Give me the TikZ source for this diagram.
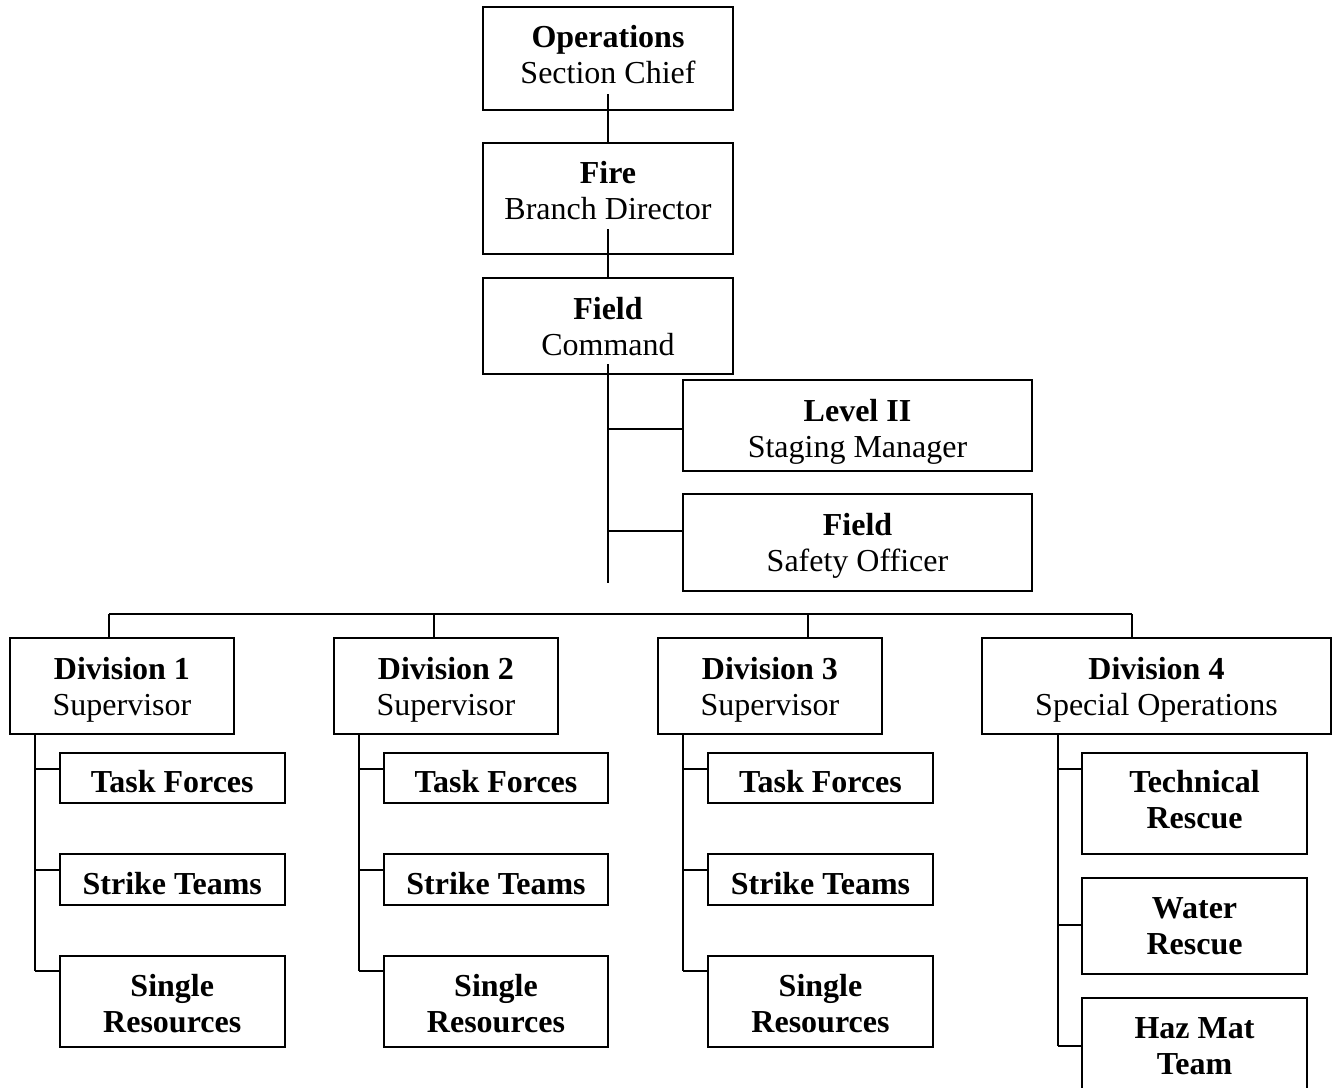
\documentclass[tikz,border=0pt]{standalone}
\usepackage{fontspec}
\setmainfont{Liberation Serif}
\usetikzlibrary{calc}
\begin{document}
\begin{tikzpicture}[x=1pt,y=-1pt,
  txt/.style={inner sep=0pt, align=center, font=\fontsize{32}{36}\selectfont, text depth=0pt},
  box/.style={txt, draw, line width=2pt, rectangle},
  topbox/.style={box, minimum width=250pt},
  sidebox/.style={box, minimum width=349pt},
  divbox/.style={box, minimum width=224pt, minimum height=96pt, text height=58pt},
  onebox/.style={box, minimum width=224.5pt},
  subbox/.style={box, minimum width=224.5pt},
  conn/.style={line width=2pt}
]
\clip (0,0) rectangle (1335,1087);

% top chain
\node[topbox, minimum height=103pt, text height=49.6pt] (ops) at (608,58.5) {\textbf{Operations}\\Section Chief};
\node[topbox, minimum height=111pt, text height=41.6pt] (fire) at (608,198.5) {\textbf{Fire}\\Branch Director};
\node[topbox, minimum height=96pt, text height=58pt] (field) at (608,326) {\textbf{Field}\\Command};

% side boxes
\node[sidebox, minimum height=90.7pt] (lvl) at (857.5,425.35) {};
\begin{scope}
  \clip (lvl.north west) rectangle ($(lvl.south east)+(0,14)$);
  \node[txt, text height=64.7pt] (lvltext) at (lvl.center) {\textbf{Level II}\\Staging Manager};
\end{scope}
\node[sidebox, minimum height=97pt, text height=57pt] (safe) at (857.5,542.5) {\textbf{Field}\\Safety Officer};

% divisions
\node[divbox] (div1) at (122,686) {\textbf{Division 1}\\Supervisor};
\node[divbox] (div2) at (446,686) {\textbf{Division 2}\\Supervisor};
\node[divbox] (div3) at (770,686) {\textbf{Division 3}\\Supervisor};
\node[divbox, minimum width=349pt] (div4) at (1156.5,686) {\textbf{Division 4}\\Special Operations};

% division children 1-3
\node[onebox, minimum height=50pt, text height=29.2pt] (tf1) at (172.25,778) {\textbf{Task Forces}};
\node[onebox, minimum height=51pt, text height=29pt] (st1) at (172.25,879.5) {\textbf{Strike Teams}};
\node[subbox, minimum height=91pt, text height=61pt] (sr1) at (172.25,1001.5) {\textbf{Single}\\\textbf{Resources}};

\node[onebox, minimum height=50pt, text height=29.2pt] (tf2) at (496,778) {\textbf{Task Forces}};
\node[onebox, minimum height=51pt, text height=29pt] (st2) at (496,879.5) {\textbf{Strike Teams}};
\node[subbox, minimum height=91pt, text height=61pt] (sr2) at (496,1001.5) {\textbf{Single}\\\textbf{Resources}};

\node[onebox, minimum height=50pt, text height=29.2pt] (tf3) at (820.5,778) {\textbf{Task Forces}};
\node[onebox, minimum height=51pt, text height=29pt] (st3) at (820.5,879.5) {\textbf{Strike Teams}};
\node[subbox, minimum height=91pt, text height=61pt] (sr3) at (820.5,1001.5) {\textbf{Single}\\\textbf{Resources}};

% division 4 children
\node[subbox, minimum height=101pt, text height=50.4pt] (tech) at (1194.5,803.5) {\textbf{Technical}\\\textbf{Rescue}};
\node[subbox, minimum height=96pt, text height=56.6pt] (water) at (1194.5,926) {\textbf{Water}\\\textbf{Rescue}};
\node[subbox, minimum height=96pt, text height=56pt] (haz) at (1194.5,1046) {\textbf{Haz Mat}\\\textbf{Team}};

% top connectors
\draw[conn] ($(ops.south)+(0,-17)$) -- (fire.north);
\draw[conn] ($(fire.south)+(0,-26)$) -- (field.north);
\coordinate (fcend) at (608,583);
\draw[conn] ($(field.south)+(0,-11)$) -- (fcend);
\coordinate (lvlb) at ($(lvl.north west)+(0,50)$);
\coordinate (safeb) at ($(safe.north west)+(0,38)$);
\draw[conn] (fcend |- lvlb) -- (lvlb);
\draw[conn] (fcend |- safeb) -- (safeb);

% bus
\coordinate (b1) at (109,614);
\coordinate (b2) at (434,614);
\coordinate (b3) at (808,614);
\coordinate (b4) at (1132,614);
\draw[conn] (b1) -- (b4);
\draw[conn] (b1) -- (b1 |- div1.north);
\draw[conn] (b2) -- (b2 |- div2.north);
\draw[conn] (b3) -- (b3 |- div3.north);
\draw[conn] (b4) -- (b4 |- div4.north);

% branch points
\coordinate (s1) at (35,0);
\coordinate (s2) at (359,0);
\coordinate (s3) at (683,0);
\coordinate (s4) at (1057.5,0);
\foreach \i in {1,2,3}{
  \coordinate (tf\i b) at ($(tf\i.north west)+(0,17)$);
  \coordinate (st\i b) at ($(st\i.north west)+(0,17)$);
  \coordinate (sr\i b) at ($(sr\i.north west)+(0,16)$);
  \draw[conn] (s\i |- div\i.south) -- (s\i |- sr\i b);
  \draw[conn] (s\i |- tf\i b) -- (tf\i b);
  \draw[conn] (s\i |- st\i b) -- (st\i b);
  \draw[conn] (s\i |- sr\i b) -- (sr\i b);
}
\coordinate (techb) at ($(tech.north west)+(0,17)$);
\coordinate (waterb) at ($(water.north west)+(0,48)$);
\coordinate (hazb) at ($(haz.north west)+(0,49)$);
\draw[conn] (s4 |- div4.south) -- (s4 |- hazb);
\draw[conn] (s4 |- techb) -- (techb);
\draw[conn] (s4 |- waterb) -- (waterb);
\draw[conn] (s4 |- hazb) -- (hazb);
\end{tikzpicture}
\end{document}
